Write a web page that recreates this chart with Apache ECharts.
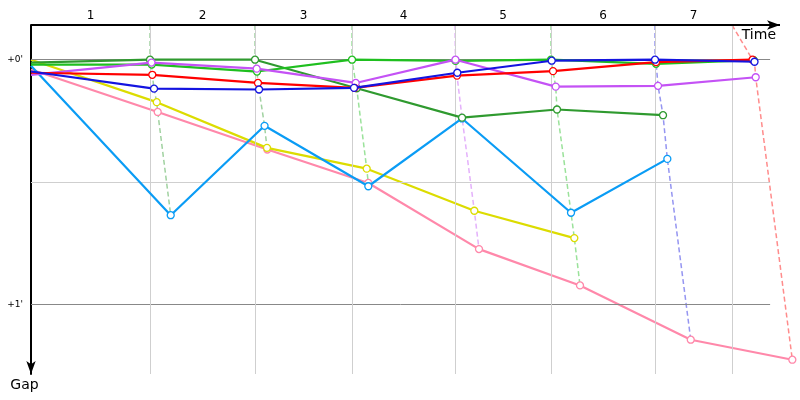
<!DOCTYPE html>
<html><head><meta charset="utf-8">
<script src="https://cdn.jsdelivr.net/npm/echarts@6.0.0/dist/echarts.min.js"></script>
<style>html,body{margin:0;padding:0;background:#fff}#c{width:800px;height:400px}</style>
</head><body><div id="c"></div>
<script>
// ---- data (time in seconds since start, gap to leader in seconds) ----
const lapLabels = ['1', '2', '3', '4', '5', '6', '7'];
const lapEnds = [228.8, 430.7, 617.2, 815.2, 999.7, 1199.7, 1347.7];
const gapLabelValues = [0, 60];

const darkGreenTimes = [0, 228.8, 430.7, 626.2, 828.7, 1011.3, 1215.1];
const darkGreenGaps  = [0.7, 0, 0, 7.0, 14.2, 12.2, 13.6];
const greenTimes = [0, 232.1, 434.5, 617.2, 816.2, 999.7, 1201.6, 1389.5];
const greenGaps  = [1.2, 1.2, 2.9, 0, 0.3, 0, 1.0, 0.1];
const purpleTimes = [0, 231.7, 433.9, 624.3, 816.0, 1008.8, 1205.5, 1393.3];
const purpleGaps  = [3.7, 0.7, 2.2, 5.7, 0, 6.6, 6.4, 4.3];
const redTimes = [0, 233.2, 436.4, 622.0, 819.0, 1003.6, 1201.7, 1387.2];
const redGaps  = [3.2, 3.7, 5.7, 6.9, 3.9, 2.8, 0.6, 0];
const blueTimes = [0, 236.5, 438.4, 621.0, 819.6, 1001.1, 1199.7, 1391.0];
const blueGaps  = [2.9, 7.1, 7.3, 6.9, 3.2, 0.25, 0, 0.5];
const yellowTimes = [0, 241.7, 453.7, 645.4, 852.3, 1044.6];
const yellowGaps  = [0, 10.4, 21.6, 26.7, 37.0, 43.7];
const pinkTimes = [0, 243.6, 454.3, 648.5, 861.3, 1055.5, 1268.4, 1463.7];
const pinkGaps  = [2.4, 12.8, 22.0, 30.2, 46.4, 55.3, 68.6, 73.5];
const skyTimes = [0, 268.6, 449.0, 648.5, 828.7, 1038.2, 1223.4];
const skyGaps  = [1.5, 38.1, 16.2, 31.0, 14.4, 37.5, 24.3];

// ---- styling ----
const FONT = 'DejaVu Sans';
const X_MIN = 0, X_MAX = 1474.6, Y_MIN = -8.5, Y_MAX = 77;
const AXIS_END = 1440, LINE_END = 1421;

const drivers = [
  { name: 'Pink', color: '#ff88aa', times: pinkTimes, gaps: pinkGaps },
  { name: 'Yellow', color: '#dcdc00', times: yellowTimes, gaps: yellowGaps },
  { name: 'Sky', color: '#0a9cf5', times: skyTimes, gaps: skyGaps },
  { name: 'DarkGreen', color: '#2f9a2f', times: darkGreenTimes, gaps: darkGreenGaps },
  { name: 'Green', color: '#1fbf1f', times: greenTimes, gaps: greenGaps },
  { name: 'Purple', color: '#c452f5', times: purpleTimes, gaps: purpleGaps },
  { name: 'Red', color: '#ff0000', times: redTimes, gaps: redGaps },
  { name: 'Blue', color: '#1414e0', times: blueTimes, gaps: blueGaps }
];

function lighten(hex, f) {
  const n = parseInt(hex.slice(1), 16);
  const r = (n >> 16) & 255, g = (n >> 8) & 255, b = n & 255;
  const m = c => Math.round(c + (255 - c) * f);
  return 'rgb(' + m(r) + ',' + m(g) + ',' + m(b) + ')';
}

const lapStarts = [0].concat(lapEnds.slice(0, -1));
const lapMids = lapEnds.map((e, i) => (e + lapStarts[i]) / 2);

const series = [];

// grid-like reference lines
const refLines = [];
[[0, '#888'], [30, '#cfcfcf'], [60, '#888']].forEach(([g, c]) => {
  refLines.push([{ coord: [0, g], lineStyle: { color: c } }, { coord: [LINE_END, g] }]);
});
lapEnds.forEach(t => {
  refLines.push([{ coord: [t, Y_MIN], lineStyle: { color: '#cfcfcf' } }, { coord: [t, Y_MAX] }]);
});
series.push({
  type: 'line', data: [[0, 0]], showSymbol: false, lineStyle: { width: 0 }, z: 1, silent: true,
  markLine: { silent: true, symbol: ['none', 'none'], label: { show: false }, animation: false,
    lineStyle: { type: 'solid', width: 1 }, data: refLines }
});
// top time axis line with arrow
series.push({
  type: 'line', data: [[0, 0]], showSymbol: false, lineStyle: { width: 0 }, z: 20, silent: true,
  markLine: { silent: true, symbol: ['none', 'arrow'], symbolSize: [7, 13], label: { show: false }, animation: false,
    lineStyle: { type: 'solid', width: 2, color: '#000' },
    data: [[{ coord: [0, Y_MIN] }, { coord: [AXIS_END, Y_MIN] }]] }
});

// dashed lap lines
lapEnds.forEach((t, i) => {
  const pts = [];
  let leader = null;
  drivers.forEach(d => {
    if (d.times.length > i + 1) {
      pts.push([d.times[i + 1], d.gaps[i + 1]]);
      if (!leader || d.gaps[i + 1] < leader.gaps[i + 1]) leader = d;
    }
  });
  pts.sort((a, b) => a[1] - b[1]);
  series.push({
    type: 'line', data: [[t, Y_MIN]].concat(pts), showSymbol: false, clip: false, z: 2, silent: true,
    lineStyle: { color: lighten(leader.color, 0.55), width: 1.5, type: [5, 3] }
  });
});

// driver lines
drivers.forEach((d, k) => {
  series.push({
    name: d.name, type: 'line', clip: false, z: 3 + k, showAllSymbol: true,
    symbol: 'circle', symbolSize: 7,
    data: d.times.map((t, i) => ({ value: [t, d.gaps[i]], symbol: i === 0 ? 'none' : 'circle' })),
    lineStyle: { color: d.color, width: 2.2 },
    itemStyle: { color: '#fff', borderColor: d.color, borderWidth: 1.3 }
  });
});

const chart = echarts.init(document.getElementById('c'));
chart.setOption({
  animation: false,
  backgroundColor: '#fff',
  grid: { left: 31, right: 2, top: 25, bottom: 26 },
  xAxis: {
    type: 'value', position: 'top', min: X_MIN, max: X_MAX,
    name: 'Time', nameLocation: 'end', nameGap: -22,
    nameTextStyle: { fontFamily: FONT, fontSize: 14, color: '#000', align: 'right', verticalAlign: 'top', padding: [3, 0, 0, 0] },
    axisLine: { show: false, onZero: false },
    axisTick: { show: false },
    splitLine: { show: false },
    axisLabel: {
      customValues: lapMids, margin: 3, fontFamily: FONT, fontSize: 12, color: '#000',
      formatter: v => { const i = lapMids.findIndex(m => Math.abs(m - v) < 1e-6); return i >= 0 ? lapLabels[i] : ''; }
    }
  },
  yAxis: {
    type: 'value', inverse: true, min: Y_MIN, max: Y_MAX,
    name: 'Gap', nameLocation: 'end', nameGap: 4,
    nameTextStyle: { fontFamily: FONT, fontSize: 14, color: '#000', align: 'center', verticalAlign: 'top', padding: [0, 13, 0, 0] },
    axisLine: { show: true, onZero: false, lineStyle: { color: '#000', width: 2 }, symbol: ['arrow', 'none'], symbolSize: [7, 13] },
    axisTick: { show: false },
    splitLine: { show: false },
    axisLabel: {
      customValues: gapLabelValues, margin: 8, fontFamily: FONT, fontSize: 9, color: '#000',
      formatter: v => '+' + Math.round(v / 60) + "'"
    }
  },
  series: series
});
</script></body></html>
